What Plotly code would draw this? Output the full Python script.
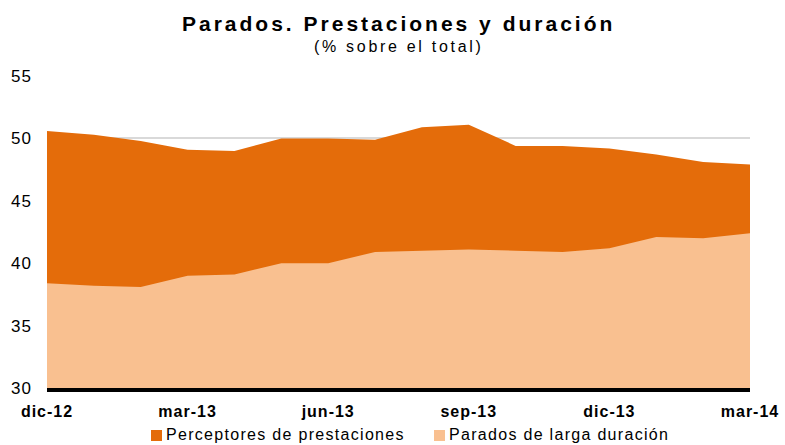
import plotly.graph_objects as go

# Monthly series, Dec 2012 - Mar 2014 (% of total unemployed)
months = ["dic-12", "ene-13", "feb-13", "mar-13", "abr-13", "may-13", "jun-13",
          "jul-13", "ago-13", "sep-13", "oct-13", "nov-13", "dic-13", "ene-14",
          "feb-14", "mar-14"]
perceptores = [50.6, 50.3, 49.8, 49.1, 49.0, 50.0, 50.0, 49.9, 50.9, 51.1,
               49.4, 49.4, 49.2, 48.7, 48.1, 47.9]
larga_duracion = [38.4, 38.2, 38.1, 39.0, 39.1, 40.0, 40.0, 40.9, 41.0, 41.1,
                  41.0, 40.9, 41.2, 42.1, 42.0, 42.4]
tick_labels = ["dic-12", "mar-13", "jun-13", "sep-13", "dic-13", "mar-14"]
y_ticks = [30, 35, 40, 45, 50, 55]

FONT = "Liberation Sans, Arial, Helvetica, sans-serif"
DARK = "#E46C0A"
LIGHT = "#F9C090"

W, H = 785, 445
M_L, M_R, M_T, M_B = 47, 35, 76, 57
PLOT_W = W - M_L - M_R
PLOT_H = H - M_T - M_B


def spaced(text, px):
    return f"<span style='letter-spacing:{px}px'>{text}</span>"


def paper_x(pixel_x):
    return (pixel_x - M_L) / PLOT_W


def paper_y(pixel_y):
    # convert a pixel row (from the top of the page) to paper coordinates
    return (H - M_B - pixel_y) / PLOT_H


fig = go.Figure()
series = [("Perceptores de prestaciones", perceptores, DARK),
          ("Parados de larga duración", larga_duracion, LIGHT)]
for name, values, color in series:
    fig.add_trace(go.Scatter(
        x=months, y=values, name=name, showlegend=False,
        mode="lines", line=dict(width=0, color=color),
        fill="tozeroy", fillcolor=color,
    ))

# legend drawn below the axis: square key + label for each series
legend_key_x = [151, 434]
shapes, annotations = [], []
for (name, _, color), kx in zip(series, legend_key_x):
    shapes.append(dict(
        type="rect", xref="paper", yref="paper",
        x0=paper_x(kx), x1=paper_x(kx + 11),
        y0=paper_y(441), y1=paper_y(430),
        fillcolor=color, line=dict(width=0), layer="above",
    ))
    annotations.append(dict(
        text=spaced(name, 1.3), xref="paper", yref="paper",
        x=paper_x(kx + 13), y=paper_y(434.5), xanchor="left", yanchor="middle",
        showarrow=False, font=dict(size=16, family=FONT, color="black"),
    ))

annotations += [
    dict(text="<b>" + spaced("Parados. Prestaciones y duración", 3.0) + "</b>",
         xref="paper", yref="paper", x=0.5, y=paper_y(24),
         xanchor="center", yanchor="middle", showarrow=False,
         font=dict(size=21, family=FONT, color="black")),
    dict(text=spaced("(% sobre el total)", 2.7),
         xref="paper", yref="paper", x=0.5, y=paper_y(46.5),
         xanchor="center", yanchor="middle", showarrow=False,
         font=dict(size=16, family=FONT, color="black")),
]

fig.update_layout(
    width=W, height=H,
    margin=dict(l=M_L, r=M_R, t=M_T, b=M_B),
    paper_bgcolor="white", plot_bgcolor="white",
    font=dict(family=FONT, color="black"),
    showlegend=False,
    xaxis=dict(
        type="category", range=[0, len(months) - 1],
        tickmode="array", tickvals=tick_labels,
        ticktext=[spaced(t, 1) for t in tick_labels],
        tickfont=dict(size=16, family=FONT, color="black", weight="bold"),
        showgrid=False, zeroline=False, automargin=False,
        showline=True, linecolor="black", linewidth=4,
        ticks="", ticklabelstandoff=6,
    ),
    yaxis=dict(
        range=[30, 55], tickmode="array", tickvals=y_ticks,
        ticktext=[spaced(str(v), 1) for v in y_ticks],
        tickfont=dict(size=17, family=FONT, color="black"),
        showgrid=True, gridcolor="#D9D9D9", gridwidth=1.5, automargin=False,
        zeroline=False, showline=False, ticks="", ticklabelstandoff=14,
    ),
    shapes=shapes,
    annotations=annotations,
)

fig.write_html("out.html")
